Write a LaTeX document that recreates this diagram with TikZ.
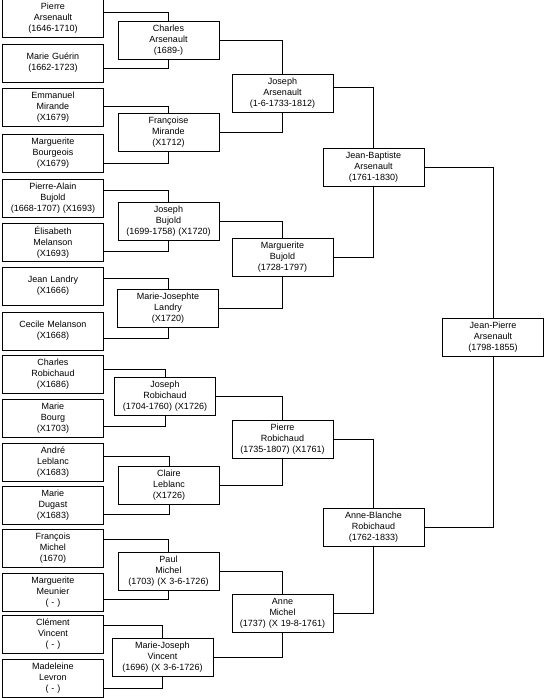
\documentclass[tikz,border=0pt]{standalone}
\usepackage{fontspec}
\setmainfont{Liberation Sans}
\tikzstyle{person} = [rectangle, minimum width=101pt, minimum height=38pt, inner sep=2pt, text width=97pt, text centered, draw=black, line width=0.9pt, font=\fontsize{9}{11}\selectfont]
\tikzstyle{link} = [line width=0.9pt]
\begin{document}
\begin{tikzpicture}
		\useasboundingbox (0pt,0pt) rectangle (546pt,-698pt);
		% great-great-grandparents
		\node [person] at (53pt,-18.5pt) 								(pierreA) 		{Pierre\\Arsenault\\(1646-1710)};
		\node [person, below of=pierreA, node distance=44.5pt] 		(marieG) 		{Marie Guérin\\(1662-1723)};
		\node [person, below of=marieG, node distance=44.5pt] 		(emmanuelM) 	{Emmanuel\\Mirande\\(X1679)};
		\node [person, below of=emmanuelM, node distance=45.5pt] 	(margueriteB) 	{Marguerite\\Bourgeois\\(X1679)};
		\node [person, below of=margueriteB, node distance=45pt] 	(pierreAB) 		{Pierre-Alain\\Bujold\\(1668-1707) (X1693)};
		\node [person, below of=pierreAB, node distance=44.5pt] 		(elisabethM) 	{Élisabeth\\Melanson\\(X1693)};
		\node [person, below of=elisabethM, node distance=43.5pt] 	(jeanL) 		{Jean Landry\\(X1666)};
		\node [person, below of=jeanL, node distance=45pt] 			(cecileM) 		{Cecile Melanson\\(X1668)};
		\node [person, below of=cecileM, node distance=43.5pt] 		(charlesR) 		{Charles\\Robichaud\\(X1686)};
		\node [person, below of=charlesR, node distance=44pt] 		(marieB) 		{Marie\\Bourg\\(X1703)};
		\node [person, below of=marieB, node distance=43.5pt] 		(andreL) 		{André\\Leblanc\\(X1683)};
		\node [person, below of=andreL, node distance=43pt] 			(marieD) 		{Marie\\Dugast\\(X1683)};
		\node [person, below of=marieD, node distance=43pt] 			(francoisM) 	{François\\Michel\\(1670)};
		\node [person, below of=francoisM, node distance=44pt] 		(margueriteM) 	{Marguerite\\Meunier\\( - )};
		\node [person, below of=margueriteM, node distance=42.5pt] 	(clementV) 		{Clément\\Vincent\\( - )};
		\node [person, below of=clementV, node distance=44pt] 		(madeleineL) 	{Madeleine\\Levron\\( - )};
		% great-grandparents
		\node [person, right of=pierreA, node distance=115.5pt, yshift=-22pt] 		(charlesA) 		{Charles\\Arsenault\\(1689-)};
		\node [person, right of=emmanuelM, node distance=115.5pt, yshift=-24.5pt] 	(francoiseM) 	{Françoise\\Mirande\\(X1712)};
		\node [person, right of=pierreAB, node distance=115.5pt, yshift=-23pt] 		(josephB) 		{Joseph\\Bujold\\(1699-1758) (X1720)};
		\node [person, right of=jeanL, node distance=115pt, yshift=-22pt] 			(mjosephteL) 	{Marie-Josephte\\Landry\\(X1720)};
		\node [person, right of=charlesR, node distance=112pt, yshift=-21.5pt] 		(josephR) 		{Joseph\\Robichaud\\(1704-1760) (X1726)};
		\node [person, right of=andreL, node distance=116pt, yshift=-23.5pt] 		(claireL) 		{Claire\\Leblanc\\(X1726)};
		\node [person, right of=francoisM, node distance=115.5pt, yshift=-23pt] 	(paulM) 		{Paul\\Michel\\(1703) (X 3-6-1726)};
		\node [person, right of=clementV, node distance=109.5pt, yshift=-22.5pt] 	(mjosephV) 		{Marie-Joseph\\Vincent\\(1696) (X 3-6-1726)};
		% grandparents
		\node [person, right of=charlesA, node distance=114pt, yshift=-52.5pt] 		(josephA) 		{Joseph\\Arsenault\\(1-6-1733-1812)};
		\node [person, right of=josephB, node distance=114pt, yshift=-36pt] 		(margueriteBu) 	{Marguerite\\Bujold\\(1728-1797)};
		\node [person, right of=josephR, node distance=117.5pt, yshift=-43pt] 		(pierreR) 		{Pierre\\Robichaud\\(1735-1807) (X1761)};
		\node [person, right of=paulM, node distance=114pt, yshift=-42pt] 			(anneM) 		{Anne\\Michel\\(1737) (X 19-8-1761)};
		% parents
		\node [person, right of=josephA, node distance=91pt, yshift=-74pt] 			(jbaptiste) 	{Jean-Baptiste\\Arsenault\\(1761-1830)};
		\node [person, right of=pierreR, node distance=91pt, yshift=-88pt] 			(ablanche) 		{Anne-Blanche\\Robichaud\\(1762-1833)};
		\node [person, right of=jbaptiste, node distance=119.5pt, yshift=-170pt] 	(jpierre) 		{Jean-Pierre\\Arsenault\\(1798-1855)};

		\draw [link] ([yshift=6.5pt]pierreA.east) -| (charlesA.north);
		\draw [link] ([yshift=-5pt]marieG.east) -| (charlesA.south);
		\draw [link] ([yshift=1.5pt]emmanuelM.east) -| (francoiseM.north);
		\draw [link] ([yshift=-10pt]margueriteB.east) -| (francoiseM.south);
		\draw [link] ([yshift=8pt]pierreAB.east) -| (josephB.north);
		\draw [link] ([yshift=-8.5pt]elisabethM.east) -| (josephB.south);
		\draw [link] ([yshift=8pt]jeanL.east) -| (mjosephteL.north);
		\draw [link] ([yshift=-7pt]cecileM.east) -| (mjosephteL.south);
		\draw [link] ([yshift=5.5pt]charlesR.east) -| (josephR.north);
		\draw [link] ([yshift=-7.5pt]marieB.east) -| (josephR.south);
		\draw [link] ([yshift=6pt]andreL.east) -| (claireL.north);
		\draw [link] ([yshift=-9pt]marieD.east) -| (claireL.south);
		\draw [link] ([yshift=9pt]francoisM.east) -| (paulM.north);
		\draw [link] ([yshift=-7pt]margueriteM.east) -| (paulM.south);
		\draw [link] ([yshift=9.5pt]clementV.east) -| (mjosephV.north);
		\draw [link] ([yshift=-9.5pt]madeleineL.east) -| (mjosephV.south);
		\draw [link] (charlesA) -| (josephA.north);
		\draw [link] (francoiseM) -| (josephA.south);
		\draw [link] (josephB) -| (margueriteBu.north);
		\draw [link] (mjosephteL) -| (margueriteBu.south);
		\draw [link] (josephR) -| (pierreR.north);
		\draw [link] (claireL) -| (pierreR.south);
		\draw [link] (paulM) -| (anneM.north);
		\draw [link] (mjosephV) -| (anneM.south);
		\draw [link] ([yshift=6pt]josephA.east) -| (jbaptiste.north);
		\draw [link] (margueriteBu) -| (jbaptiste.south);
		\draw [link] (pierreR) -| (ablanche.north);
		\draw [link] (anneM) -| (ablanche.south);
		\draw [link] (jbaptiste) -| (jpierre.north);
		\draw [link] (ablanche) -| (jpierre.south);
	\end{tikzpicture}
\end{document}
